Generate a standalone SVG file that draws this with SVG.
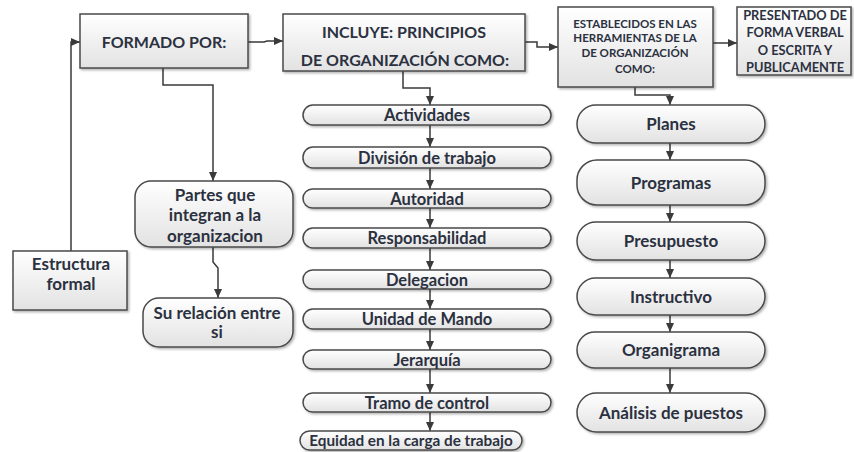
<svg xmlns="http://www.w3.org/2000/svg" width="854" height="452" viewBox="0 0 854 452">
<defs>
<linearGradient id="g" x1="0" y1="0" x2="0" y2="1">
<stop offset="0" stop-color="#ffffff"/>
<stop offset="1" stop-color="#e2e2e2"/>
</linearGradient>
<filter id="sh" x="-10%" y="-10%" width="125%" height="140%">
<feDropShadow dx="1.5" dy="1.5" stdDeviation="1" flood-color="#000" flood-opacity="0.3"/>
</filter>
<marker id="ar" markerUnits="userSpaceOnUse" markerWidth="10" markerHeight="10" viewBox="0 0 10 10" refX="9" refY="5" orient="auto">
<path d="M0,1 L9,5 L0,9 Z" fill="#3a3a3a"/>
</marker>
</defs>
<style>
.b{fill:url(#g);stroke:#4a4a4a;stroke-width:1.5;filter:url(#sh)}
.t{font-family:Lato,"Open Sans",sans-serif;font-weight:700;fill:#2b3140;text-anchor:middle}
.s16{font-size:16px}
.s17{font-size:17px}
.s14{font-size:16.5px}
.s15{font-size:15.3px}
.s11{font-size:11.5px}
.s12{font-size:12.8px}
.c{fill:none;stroke:#3a3a3a;stroke-width:1.5}
</style>
<rect width="854" height="452" fill="#ffffff"/>

<g id="connectors">
<path class="c" d="M71,251 V42 H80" marker-end="url(#ar)"/>
<path class="c" d="M248,42 H264 L267,41 H283" marker-end="url(#ar)"/>
<path class="c" d="M525,42 H537 V47 H558" marker-end="url(#ar)"/>
<path class="c" d="M713,43 H737" marker-end="url(#ar)"/>
<path class="c" d="M163,68 V85 H213 V181" marker-end="url(#ar)"/>
<path class="c" d="M213,247 V262 L218,268 V298" marker-end="url(#ar)"/>
<path class="c" d="M403,71 V88 H430 V105" marker-end="url(#ar)"/>
<path class="c" d="M635,87 V95 H670 V105" marker-end="url(#ar)"/>
<path class="c" d="M430,125 V147" marker-end="url(#ar)"/>
<path class="c" d="M430,168 V189" marker-end="url(#ar)"/>
<path class="c" d="M430,208 V228" marker-end="url(#ar)"/>
<path class="c" d="M430,248 V270" marker-end="url(#ar)"/>
<path class="c" d="M430,289 V309" marker-end="url(#ar)"/>
<path class="c" d="M430,329 V350" marker-end="url(#ar)"/>
<path class="c" d="M430,369 V393" marker-end="url(#ar)"/>
<path class="c" d="M430,412 V431" marker-end="url(#ar)"/>
<path class="c" d="M670,143 V160" marker-end="url(#ar)"/>
<path class="c" d="M670,205 V222" marker-end="url(#ar)"/>
<path class="c" d="M670,260 V278" marker-end="url(#ar)"/>
<path class="c" d="M670,315 V332" marker-end="url(#ar)"/>
<path class="c" d="M670,368 V393" marker-end="url(#ar)"/>
</g>

<g id="formado">
<rect class="b" x="80" y="14" width="168" height="54"/>
<text class="t s16" x="164" y="48">FORMADO POR:</text>
</g>
<g id="incluye">
<rect class="b" x="283" y="14" width="242" height="57"/>
<text class="t s16" x="404" y="38">INCLUYE: PRINCIPIOS</text>
<text class="t s16" x="405" y="66">DE ORGANIZACIÓN COMO:</text>
</g>
<g id="establecidos">
<rect class="b" x="558" y="7" width="155" height="80"/>
<text class="t s11" x="635" y="28">ESTABLECIDOS EN LAS</text>
<text class="t s11" x="635" y="42">HERRAMIENTAS DE LA</text>
<text class="t s11" x="635" y="57">DE ORGANIZACIÓN</text>
<text class="t s11" x="635" y="73">COMO:</text>
</g>
<g id="presentado">
<rect class="b" x="737" y="7" width="114" height="68"/>
<text class="t s12" x="795" y="20">PRESENTADO DE</text>
<text class="t s12" x="795" y="37">FORMA VERBAL</text>
<text class="t s12" x="795" y="55">O ESCRITA Y</text>
<text class="t s12" x="795" y="72">PUBLICAMENTE</text>
</g>
<g id="estructura">
<rect class="b" x="13" y="251" width="114" height="59"/>
<text class="t s17" x="71" y="270">Estructura</text>
<text class="t s17" x="71" y="290">formal</text>
</g>
<g id="partes">
<rect class="b" x="135" y="181" width="158" height="66" rx="16"/>
<text class="t s17" x="215" y="201">Partes que</text>
<text class="t s17" x="215" y="221">integran a la</text>
<text class="t s17" x="215" y="242">organizacion</text>
</g>
<g id="relacion">
<rect class="b" x="143" y="298" width="150" height="49" rx="16"/>
<text class="t s17" x="217" y="319">Su relación entre</text>
<text class="t s17" x="217" y="338">si</text>
</g>

<g id="actividades"><rect class="b" x="303" y="105" width="248" height="20" rx="10"/><text class="t s14" x="427" y="121">Actividades</text></g>
<g id="division"><rect class="b" x="303" y="147" width="248" height="21" rx="10"/><text class="t s14" x="427" y="163.5">División de trabajo</text></g>
<g id="autoridad"><rect class="b" x="303" y="189" width="248" height="19" rx="9.5"/><text class="t s14" x="427" y="204.5">Autoridad</text></g>
<g id="responsabilidad"><rect class="b" x="303" y="228" width="248" height="20" rx="10"/><text class="t s14" x="427" y="244">Responsabilidad</text></g>
<g id="delegacion"><rect class="b" x="303" y="270" width="248" height="19" rx="9.5"/><text class="t s14" x="427" y="285.5">Delegacion</text></g>
<g id="unidad"><rect class="b" x="303" y="309" width="248" height="20" rx="10"/><text class="t s14" x="427" y="325">Unidad de Mando</text></g>
<g id="jerarquia"><rect class="b" x="303" y="350" width="248" height="19" rx="9.5"/><text class="t s14" x="427" y="365.5">Jerarquía</text></g>
<g id="tramo"><rect class="b" x="303" y="393" width="248" height="19" rx="9.5"/><text class="t s14" x="427" y="408.5">Tramo de control</text></g>
<g id="equidad"><rect class="b" x="300" y="431" width="222" height="19" rx="9.5"/><text class="t s15" x="411" y="446">Equidad en la carga de trabajo</text></g>

<g id="planes"><rect class="b" x="577" y="105" width="188" height="38" rx="19"/><text class="t s17" x="671" y="130">Planes</text></g>
<g id="programas"><rect class="b" x="577" y="160" width="188" height="45" rx="20"/><text class="t s17" x="671" y="189">Programas</text></g>
<g id="presupuesto"><rect class="b" x="577" y="222" width="188" height="38" rx="19"/><text class="t s17" x="671" y="247">Presupuesto</text></g>
<g id="instructivo"><rect class="b" x="577" y="278" width="188" height="37" rx="18.5"/><text class="t s17" x="671" y="302.5">Instructivo</text></g>
<g id="organigrama"><rect class="b" x="577" y="332" width="188" height="36" rx="18"/><text class="t s17" x="671" y="356">Organigrama</text></g>
<g id="analisis"><rect class="b" x="577" y="393" width="188" height="39" rx="19.5"/><text class="t s17" x="671" y="418.5">Análisis de puestos</text></g>
</svg>
